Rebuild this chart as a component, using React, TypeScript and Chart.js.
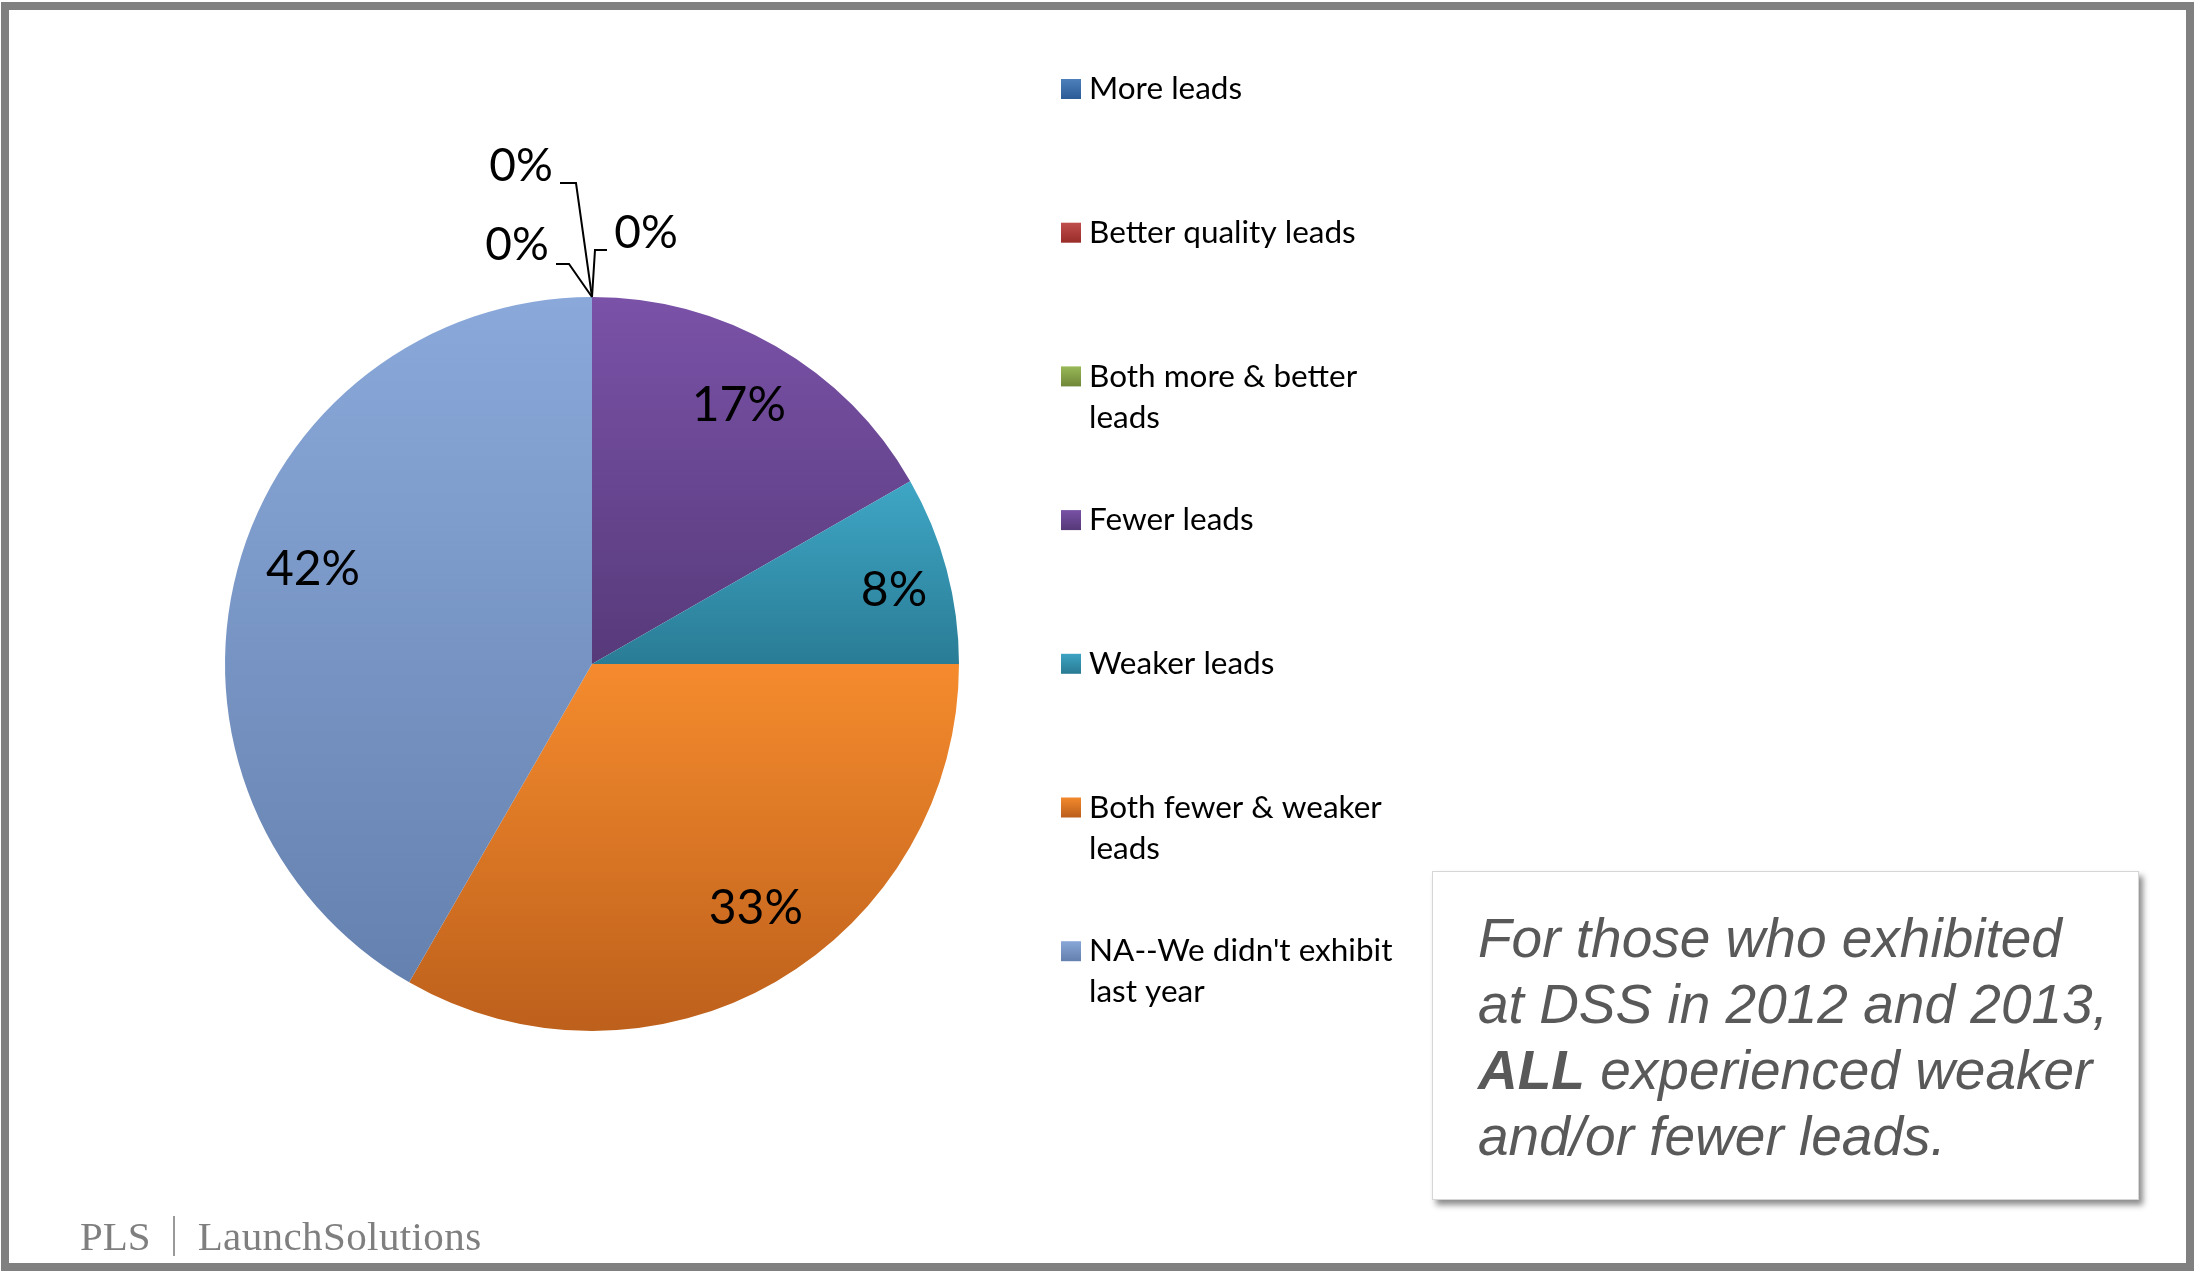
import React, { useEffect, useRef } from "react";
import { Chart, registerables } from "chart.js";

Chart.register(...registerables);

// ---- data ----
const categories = [
  "More leads",
  "Better quality leads",
  "Both more & better leads",
  "Fewer leads",
  "Weaker leads",
  "Both fewer & weaker leads",
  "NA--We didn't exhibit last year",
];
const legendLines = [
  ["More leads"],
  ["Better quality leads"],
  ["Both more & better", "leads"],
  ["Fewer leads"],
  ["Weaker leads"],
  ["Both fewer & weaker", "leads"],
  ["NA--We didn't exhibit", "last year"],
];
const shares = [0, 0, 0, 16.7, 8.3, 33.3, 41.7];
const topColors = ["#4F81BD", "#C0504D", "#9BBB59", "#7A52A8", "#3EA6C5", "#F58B2D", "#8AA9DA"];
const bottomColors = ["#2C5D98", "#9B2D2A", "#71893A", "#573A7A", "#2A7C95", "#BD601C", "#6581AF"];

// label placement for the zero-size slices (offsets from the slice anchor)
const zeroLabelLayout = [
  { text: [-75, -52], elbow: [-23, -33], end: [-36, -33] },
  { text: [-71, -131], elbow: [-16, -114], end: [-32, -114] },
  { text: [54, -64], elbow: [3, -47], end: [15, -47] },
];
// small "best fit" nudges for the inside labels (pixels)
const labelNudge = [
  [0, 0],
  [0, 0],
  [0, 0],
  [-3, 0],
  [13, 4],
  [14, -14],
  [10, -17],
];

const LABEL_FONT = "48px Lato, 'Open Sans', sans-serif";
const LEGEND_FONT = "31.5px Lato, 'Open Sans', sans-serif";

function sliceGradient(ctx: any) {
  const chart = ctx.chart;
  const area = chart.chartArea;
  const i = ctx.dataIndex;
  if (!area || i === undefined) return topColors[i ?? 0];
  const cx = (area.left + area.right) / 2;
  const cy = (area.top + area.bottom) / 2;
  const r = Math.min(area.right - area.left, area.bottom - area.top) / 2;
  const total = shares.reduce((a, b) => a + b, 0);
  let before = 0;
  for (let k = 0; k < i; k++) before += shares[k];
  const a0 = -Math.PI / 2 + (before / total) * Math.PI * 2;
  const a1 = a0 + (shares[i] / total) * Math.PI * 2;
  const ys = [cy, cy + r * Math.sin(a0), cy + r * Math.sin(a1)];
  for (const t of [-Math.PI / 2, Math.PI / 2, (3 * Math.PI) / 2]) {
    if (t >= a0 && t <= a1) ys.push(cy + r * Math.sin(t));
  }
  const y0 = Math.min(...ys);
  const y1 = Math.max(...ys);
  if (y1 - y0 < 1) return topColors[i];
  const g = chart.ctx.createLinearGradient(0, y0, 0, y1);
  g.addColorStop(0, topColors[i]);
  g.addColorStop(1, bottomColors[i]);
  return g;
}

const labelPlugin = {
  id: "sliceLabels",
  afterDatasetsDraw(chart: any) {
    const ctx = chart.ctx;
    const meta = chart.getDatasetMeta(0);
    ctx.save();
    ctx.font = LABEL_FONT;
    ctx.fillStyle = "#000000";
    ctx.textAlign = "center";
    ctx.textBaseline = "middle";
    let zi = 0;
    meta.data.forEach((arc: any, i: number) => {
      const p = arc.getProps(["x", "y", "startAngle", "endAngle", "outerRadius"], true);
      const v = shares[i];
      const txt = Math.round(v) + "%";
      if (v === 0) {
        const lay = zeroLabelLayout[zi++];
        if (!lay) return;
        const ax = p.x + Math.cos(p.startAngle) * p.outerRadius;
        const ay = p.y + Math.sin(p.startAngle) * p.outerRadius;
        ctx.strokeStyle = "#000000";
        ctx.lineWidth = 2;
        ctx.beginPath();
        ctx.moveTo(ax, ay);
        ctx.lineTo(ax + lay.elbow[0], ay + lay.elbow[1]);
        ctx.lineTo(ax + lay.end[0], ay + lay.end[1]);
        ctx.stroke();
        ctx.font = "46px Lato, 'Open Sans', sans-serif";
        ctx.fillText(txt, ax + lay.text[0], ay + lay.text[1]);
        ctx.font = LABEL_FONT;
      } else {
        const mid = (p.startAngle + p.endAngle) / 2;
        const rr = p.outerRadius * 0.815;
        const n = labelNudge[i];
        ctx.fillText(txt, p.x + Math.cos(mid) * rr + n[0], p.y + Math.sin(mid) * rr + n[1]);
      }
    });
    ctx.restore();
  },
};

const legendPlugin = {
  id: "sideLegend",
  afterDraw(chart: any) {
    const ctx = chart.ctx;
    const left = 1061;
    const firstY = 88;
    const step = 143.7;
    const lineH = 41;
    const box = 20;
    ctx.save();
    ctx.font = LEGEND_FONT;
    ctx.textAlign = "left";
    ctx.textBaseline = "middle";
    categories.forEach((_, i) => {
      const y = firstY + i * step;
      const g = ctx.createLinearGradient(0, y - box / 2, 0, y + box / 2);
      g.addColorStop(0, topColors[i]);
      g.addColorStop(1, bottomColors[i]);
      ctx.fillStyle = g;
      ctx.fillRect(left, y - box / 2 + 1, box, box);
      ctx.fillStyle = "#000000";
      legendLines[i].forEach((line, j) => {
        ctx.fillText(line, left + 28, y + j * lineH + 1);
      });
    });
    ctx.restore();
  },
};

export default function App() {
  const canvasRef = useRef<HTMLCanvasElement | null>(null);

  useEffect(() => {
    document.body.style.margin = "0";
    const canvas = canvasRef.current;
    if (!canvas) return;
    const chart = new Chart(canvas, {
      type: "pie",
      data: {
        labels: categories,
        datasets: [
          {
            data: shares,
            backgroundColor: sliceGradient as any,
            borderWidth: 0,
          },
        ],
      },
      options: {
        animation: false,
        responsive: false,
        devicePixelRatio: 1,
        layout: { padding: { left: 225, right: 1236, top: 297, bottom: 242 } },
        plugins: {
          legend: { display: false },
          tooltip: { enabled: false },
          title: { display: false },
        },
      },
      plugins: [labelPlugin, legendPlugin],
    });
    return () => chart.destroy();
  }, []);

  return (
    <div
      style={{
        position: "absolute",
        left: 0,
        top: 0,
        width: 2195,
        height: 1273,
        background: "#ffffff",
        overflow: "hidden",
      }}
    >
      <canvas
        ref={canvasRef}
        width={2195}
        height={1273}
        style={{ position: "absolute", left: 0, top: 0, width: 2195, height: 1273 }}
      />
      <div
        style={{
          position: "absolute",
          left: 1,
          top: 2,
          width: 2193,
          height: 1269,
          boxSizing: "border-box",
          border: "8px solid #808080",
          pointerEvents: "none",
        }}
      />
      <div
        style={{
          position: "absolute",
          left: 1432,
          top: 871,
          width: 707,
          height: 329,
          boxSizing: "border-box",
          background: "#ffffff",
          border: "1px solid #d6d6d6",
          boxShadow: "4px 5px 6px rgba(0,0,0,0.45)",
        }}
      >
        <div
          style={{
            position: "absolute",
            left: 45,
            top: 33,
            fontFamily: "'Liberation Sans', Arial, sans-serif",
            fontStyle: "italic",
            fontSize: 55,
            lineHeight: "66px",
            color: "#595959",
            whiteSpace: "nowrap",
          }}
        >
          <div>For those who exhibited</div>
          <div>at DSS in 2012 and 2013,</div>
          <div>
            <b>ALL</b> experienced weaker
          </div>
          <div>and/or fewer leads.</div>
        </div>
      </div>
      <div
        style={{
          position: "absolute",
          left: 80,
          top: 1210,
          fontFamily: "'Liberation Serif', 'DejaVu Serif', serif",
          fontSize: 41,
          lineHeight: "52px",
          color: "#7f7f7f",
          whiteSpace: "nowrap",
          display: "flex",
          alignItems: "center",
        }}
      >
        <span>PLS</span>
        <span
          style={{
            display: "inline-block",
            width: 2,
            height: 40,
            background: "#9a9a9a",
            margin: "0 23px 0 22px",
          }}
        />
        <span style={{ letterSpacing: "0.4px" }}>LaunchSolutions</span>
      </div>
    </div>
  );
}
